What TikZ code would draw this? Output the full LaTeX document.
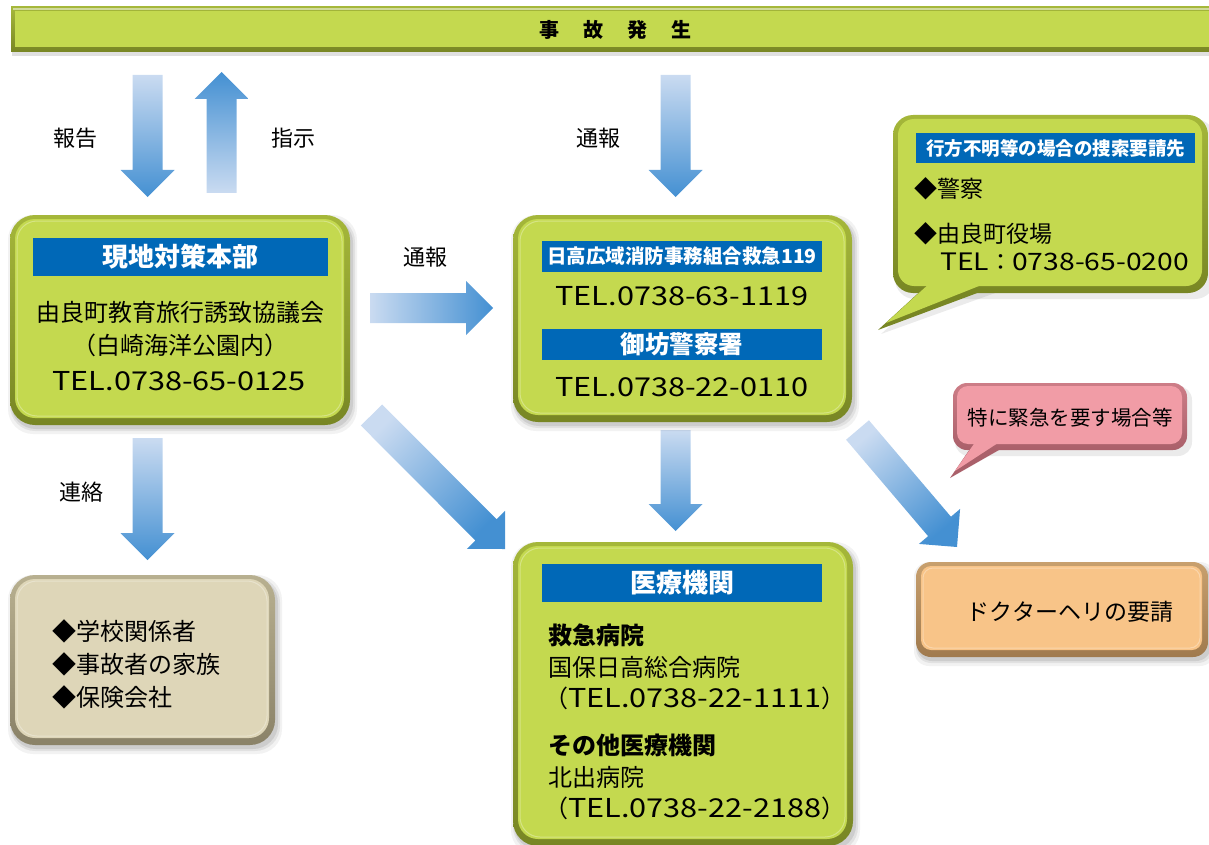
\documentclass[tikz,border=0pt]{standalone}
\usepackage{fontspec}
\setmainfont{Noto Sans CJK JP}
\newfontfamily\telf{Noto Sans CJK JP}[FakeStretch=1.18]
\usetikzlibrary{calc}
\definecolor{gfill}{RGB}{196,217,79}
\definecolor{grimL}{RGB}{165,183,58}
\definecolor{grimD}{RGB}{120,134,36}
\definecolor{bfill}{RGB}{222,214,184}
\definecolor{brimL}{RGB}{184,176,144}
\definecolor{brimD}{RGB}{138,130,104}
\definecolor{ofill}{RGB}{248,196,136}
\definecolor{orimL}{RGB}{200,160,110}
\definecolor{orimD}{RGB}{160,122,78}
\definecolor{pfill}{RGB}{241,156,166}
\definecolor{primL}{RGB}{205,125,135}
\definecolor{primD}{RGB}{170,96,106}
\definecolor{banblue}{RGB}{0,104,183}
\definecolor{arrL}{RGB}{202,219,241}
\definecolor{arrD}{RGB}{68,144,210}
\newcommand\telno[1]{{\telf\fontsize{26}{30}\selectfont #1}}
\newcommand\bevelbox[8]{%
  \pgfmathsetmacro\ir{#5-5}%
  \fill[black,opacity=0.05,rounded corners=#5pt] (#1-2,#2) rectangle (#3+7,#4+9);
  \fill[black,opacity=0.07,rounded corners=#5pt] (#1,#2+2) rectangle (#3+5,#4+6);
  \fill[black,opacity=0.09,rounded corners=#5pt] (#1+1,#2+3) rectangle (#3+3,#4+4);
  \path[rounded corners=#5pt, top color=#6, bottom color=#7] (#1,#2) rectangle (#3,#4);
  \fill[#8, rounded corners=\ir pt] (#1+5,#2+4) rectangle (#3-6,#4-7);
  \draw[white, opacity=0.3, line width=1pt, rounded corners=\ir pt] (#1+7,#2+6) rectangle (#3-8,#4-9);
}
\newcommand\barrow[3]{%
  \coordinate (hb) at ($(#2)!27pt!(#1)$);
  \path[top color=arrL, bottom color=arrD, shading angle=#3]
    ($(#1)!15pt!90:(#2)$) -- ($(hb)!15pt!90:(#2)$) -- ($(hb)!27pt!90:(#2)$) -- (#2)
    -- ($(hb)!27pt!-90:(#2)$) -- ($(hb)!15pt!-90:(#2)$) -- ($(#1)!15pt!-90:(#2)$) -- cycle;
}
\tikzset{
  lbl/.style={font=\fontsize{22}{26}\selectfont, inner sep=0pt},
  txt/.style={font=\fontsize{24}{28}\selectfont, inner sep=0pt},
  ban/.style={font=\bfseries\fontsize{26}{30}\selectfont, text=white, inner sep=0pt},
  tel/.style={font=\telf\fontsize{26}{30}\selectfont, inner sep=0pt},
}
\begin{document}
\begin{tikzpicture}[x=1pt,y=-1pt]
\useasboundingbox (0,0) rectangle (1209,845);
\clip (0,0) rectangle (1209,845);
% top bar
\fill[black,opacity=0.12] (12,10) rectangle (1215,56);
\path[top color=grimL, bottom color=grimD] (11,7) rectangle (1215,52);
\fill[white,opacity=0.5] (13,8.5) rectangle (1215,10.5);
\fill[gfill] (15,11) rectangle (1215,47);
\node[font=\bfseries\fontsize{20}{24}\selectfont, inner sep=0pt] (title) at (615,30) {事\hspace{24pt}故\hspace{24pt}発\hspace{24pt}生};
% arrows
\coordinate (a1s) at (147.5,75);  \coordinate (a1e) at (147.5,197);
\coordinate (a2s) at (221.5,193); \coordinate (a2e) at (221.5,72);
\coordinate (a3s) at (675.5,75);  \coordinate (a3e) at (675.5,197);
\coordinate (a4s) at (370,308);   \coordinate (a4e) at (493,308);
\coordinate (a5s) at (371.5,415); \coordinate (a5e) at (505,549);
\coordinate (a6s) at (147.5,438); \coordinate (a6e) at (147.5,560);
\coordinate (a7s) at (675.5,430); \coordinate (a7e) at (675.5,531);
\coordinate (a8s) at (857.5,430); \coordinate (a8e) at (957,547);
\barrow{a1s}{a1e}{0}
\barrow{a2s}{a2e}{180}
\barrow{a3s}{a3e}{0}
\barrow{a4s}{a4e}{90}
\barrow{a5s}{a5e}{45}
\barrow{a6s}{a6e}{0}
\barrow{a7s}{a7e}{0}
\barrow{a8s}{a8e}{40}
% arrow labels
\node[lbl] (l1) at (75,138) {報告};
\node[lbl] (l2) at (293,138) {指示};
\node[lbl] (l3) at (598,138) {通報};
\node[lbl] (l4) at (425,257) {通報};
\node[lbl] (l5) at (81,492) {連絡};
% left box
\bevelbox{10}{215}{350}{425}{25}{grimL}{grimD}{gfill}
\fill[banblue] (33,238) rectangle (328,276);
\node[ban] (hq) at (180.5,257) {現地対策本部};
\node[txt] (hq1) at (180,312) {由良町教育旅行誘致協議会};
\node[txt] (hq2) at (180,345) {（白崎海洋公園内）};
\node[tel] (hq3) at (179,381) {TEL.0738-65-0125};
% middle box
\bevelbox{513}{215}{852}{422}{25}{grimL}{grimD}{gfill}
\fill[banblue] (542,241) rectangle (822,272);
\node[ban, font=\bfseries\fontsize{19.5}{23}\selectfont] (fire) at (682,256.5) {日高広域消防事務組合救急119};
\node[tel] (fire1) at (682,296) {TEL.0738-63-1119};
\fill[banblue] (542,329) rectangle (822,360);
\node[ban, font=\bfseries\fontsize{24.5}{28}\selectfont] (pol) at (682,344.5) {御坊警察署};
\node[tel] (pol1) at (682,387) {TEL.0738-22-0110};
% top-right callout
\fill[black,opacity=0.08,rounded corners=20pt] (895,119) rectangle (1215,299);
\fill[black,opacity=0.08] (928,292) -- (881,334) -- (998,292) -- cycle;
\fill[grimD] (926,286) -- (878,330) -- (996,286) -- cycle;
\path[rounded corners=20pt, top color=grimL, bottom color=grimD] (893,115) rectangle (1208,293);
\fill[gfill, rounded corners=16pt] (898,119) rectangle (1202,286);
\fill[gfill] (931,282) -- (886,323) -- (989,282) -- cycle;
\fill[banblue] (916,133) rectangle (1195,163);
\node[ban, font=\bfseries\fontsize{18.5}{22}\selectfont] (srch) at (1055.5,148) {行方不明等の場合の捜索要請先};
\node[txt, font=\fontsize{23}{27}\selectfont, anchor=west] (srch1) at (914,189) {◆警察};
\node[txt, font=\fontsize{23}{27}\selectfont, anchor=west] (srch2) at (914,234) {◆由良町役場};
\node[txt, font=\fontsize{23}{27}\selectfont, anchor=west] (srch3) at (940,262) {{\telf\fontsize{24}{28}\selectfont TEL}：{\telf\fontsize{24}{28}\selectfont 0738-65-0200}};
% pink callout
\fill[black,opacity=0.08,rounded corners=14pt] (955,386) rectangle (1192,456);
\fill[primD] (972,446) -- (950,478) -- (1006,446) -- cycle;
\path[rounded corners=14pt, top color=primL, bottom color=primD] (953,383) rectangle (1187,450);
\fill[pfill, rounded corners=11pt] (957,386) rectangle (1182,444);
\fill[pfill] (976,441) -- (955,471) -- (1001,441) -- cycle;
\node[txt, font=\fontsize{20.5}{24}\selectfont] (urg) at (1070,418) {特に緊急を要す場合等};
% doctor heli box
\bevelbox{916}{562}{1208}{657}{15}{orimL}{orimD}{ofill}
\node[txt, font=\fontsize{23}{27}\selectfont] (heli) at (1070,612) {ドクターヘリの要請};
% beige box
\bevelbox{10}{575}{275}{745}{25}{brimL}{brimD}{bfill}
\node[txt, anchor=west] (c1) at (52,631) {◆学校関係者};
\node[txt, anchor=west] (c2) at (52,664) {◆事故者の家族};
\node[txt, anchor=west] (c3) at (52,697) {◆保険会社};
% medical box
\bevelbox{513}{542}{853}{846}{25}{grimL}{grimD}{gfill}
\fill[banblue] (542,564) rectangle (822,602);
\node[ban] (med) at (682,583) {医療機関};
\node[txt, font=\bfseries\fontsize{24}{28}\selectfont, anchor=west] (m1) at (548,635) {救急病院};
\node[txt, anchor=west] (m2) at (548,667) {国保日高総合病院};
\node[txt, anchor=west] (m3) at (544,698) {（\telno{TEL.0738-22-1111}）};
\node[txt, font=\bfseries\fontsize{24}{28}\selectfont, anchor=west] (m4) at (548,745) {その他医療機関};
\node[txt, anchor=west] (m5) at (548,777) {北出病院};
\node[txt, anchor=west] (m6) at (544,808) {（\telno{TEL.0738-22-2188}）};
\end{tikzpicture}
\end{document}
